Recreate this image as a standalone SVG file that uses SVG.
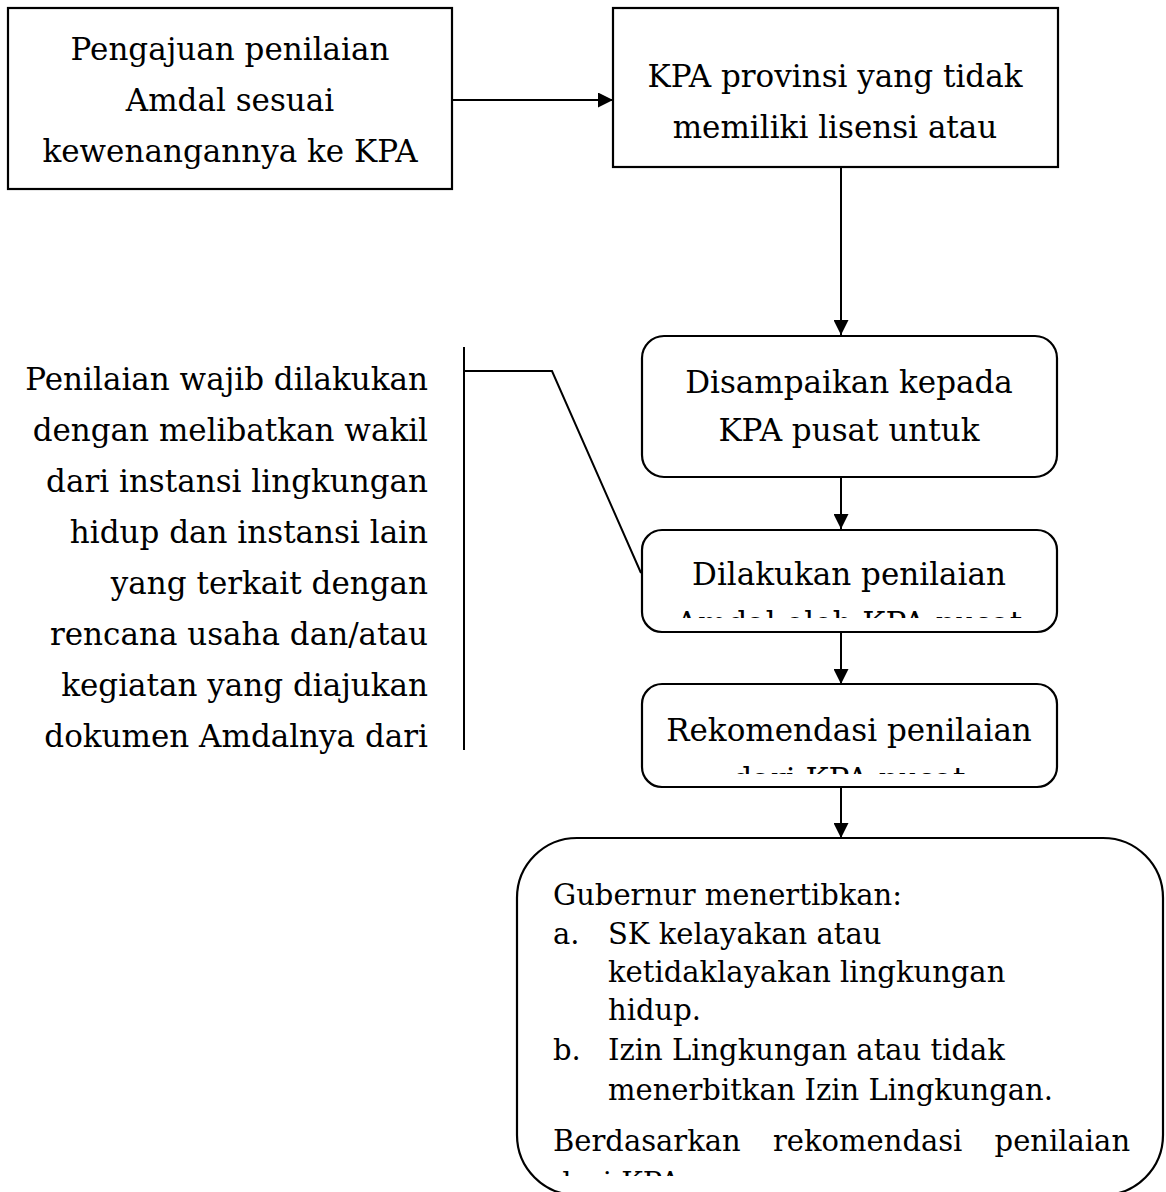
<svg xmlns="http://www.w3.org/2000/svg" width="1166" height="1192" viewBox="0 0 1166 1192">
<style>
.box{fill:#fff;stroke:#000;stroke-width:2.2}
.ln{fill:none;stroke:#000;stroke-width:2}
.t{font-family:"DejaVu Serif","Liberation Serif",serif;font-size:31px;fill:#000}
.c{text-anchor:middle}
.r{text-anchor:end}
.s{font-size:29px}
</style>
<defs>
<marker id="ah" viewBox="0 0 10 10" refX="10" refY="5" markerWidth="15" markerHeight="15" markerUnits="userSpaceOnUse" orient="auto">
<path d="M0,0 L10,5 L0,10 Z" fill="#000"/>
</marker>
<clipPath id="c4"><rect x="641" y="529" width="416" height="89"/></clipPath>
<clipPath id="c5"><rect x="641" y="684" width="416" height="90"/></clipPath>
<clipPath id="c6"><rect x="515" y="838" width="650" height="338"/></clipPath>
</defs>
<g id="connectors">
<line class="ln" x1="452" y1="100" x2="613" y2="100" marker-end="url(#ah)"/>
<line class="ln" x1="841" y1="167" x2="841" y2="335" marker-end="url(#ah)"/>
<line class="ln" x1="841" y1="477" x2="841" y2="529" marker-end="url(#ah)"/>
<line class="ln" x1="841" y1="632" x2="841" y2="684" marker-end="url(#ah)"/>
<line class="ln" x1="841" y1="787" x2="841" y2="838" marker-end="url(#ah)"/>
<polyline class="ln" points="464,371 552,371 641,573"/>
<line class="ln" x1="464" y1="347" x2="464" y2="750"/>
</g>
<g id="n1">
<rect class="box" x="8" y="8" width="444" height="181"/>
<text class="t c" x="230" y="60">Pengajuan penilaian</text>
<text class="t c" x="230" y="111">Amdal sesuai</text>
<text class="t c" x="230" y="162">kewenangannya ke KPA</text>
</g>
<g id="n2">
<rect class="box" x="613" y="8" width="445" height="159"/>
<text class="t c" x="835" y="87">KPA provinsi yang tidak</text>
<text class="t c" x="835" y="138">memiliki lisensi atau</text>
</g>
<g id="n3">
<rect class="box" x="642" y="336" width="415" height="141" rx="22"/>
<text class="t c" x="849" y="393">Disampaikan kepada</text>
<text class="t c" x="849" y="441">KPA pusat untuk</text>
</g>
<g id="n4">
<rect class="box" x="642" y="530" width="415" height="102" rx="20"/>
<text class="t c" x="849" y="585">Dilakukan penilaian</text>
<text class="t c" x="849" y="634" clip-path="url(#c4)">Amdal oleh KPA pusat</text>
</g>
<g id="n5">
<rect class="box" x="642" y="684" width="415" height="103" rx="20"/>
<text class="t c" x="849" y="741">Rekomendasi penilaian</text>
<text class="t c" x="849" y="790" clip-path="url(#c5)">dari KPA pusat</text>
</g>
<g id="n6">
<rect class="box" x="517" y="838" width="646" height="357" rx="60"/>
<text class="t s" x="553" y="905">Gubernur menertibkan:</text>
<text class="t s" x="553" y="944">a.</text>
<text class="t s" x="608" y="944">SK kelayakan atau</text>
<text class="t s" x="608" y="982">ketidaklayakan lingkungan</text>
<text class="t s" x="608" y="1020">hidup.</text>
<text class="t s" x="553" y="1060">b.</text>
<text class="t s" x="608" y="1060">Izin Lingkungan atau tidak</text>
<text class="t s" x="608" y="1100">menerbitkan Izin Lingkungan.</text>
<text class="t s" x="553" y="1151" word-spacing="23">Berdasarkan rekomendasi penilaian</text>
<text class="t s" x="553" y="1193" clip-path="url(#c6)">dari KPA</text>
</g>
<g id="n7">
<text class="t r" x="428" y="390">Penilaian wajib dilakukan</text>
<text class="t r" x="428" y="441">dengan melibatkan wakil</text>
<text class="t r" x="428" y="492">dari instansi lingkungan</text>
<text class="t r" x="428" y="543">hidup dan instansi lain</text>
<text class="t r" x="428" y="594">yang terkait dengan</text>
<text class="t r" x="428" y="645">rencana usaha dan/atau</text>
<text class="t r" x="428" y="696">kegiatan yang diajukan</text>
<text class="t r" x="428" y="747">dokumen Amdalnya dari</text>
</g>
</svg>
